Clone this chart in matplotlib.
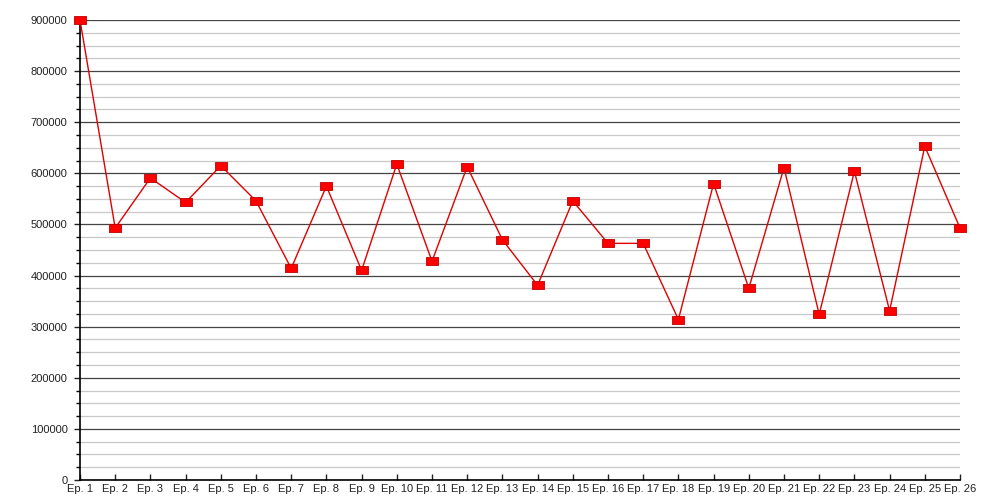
import matplotlib
matplotlib.use('Agg')
import matplotlib.pyplot as plt
from matplotlib.ticker import MultipleLocator

episodes = ['Ep. %d' % i for i in range(1, 27)]
values = [900000, 493000, 591000, 543000, 615000, 546000, 414000, 575000,
          410000, 618000, 428000, 613000, 470000, 381000, 546000, 463000,
          463000, 314000, 580000, 375000, 611000, 324000, 604000, 331000,
          653000, 493000]

plt.rcParams['font.family'] = ['Liberation Sans', 'DejaVu Sans']

fig = plt.figure(figsize=(10, 5), dpi=100)
ax = fig.add_axes([0.08, 0.04, 0.88, 0.92])

x = list(range(len(episodes)))
rect = [(-1, -0.65), (1, -0.65), (1, 0.65), (-1, 0.65), (-1, -0.65)]
ax.plot(x, values, color='#e00000', linewidth=1, marker=rect, markersize=8,
        markerfacecolor='#ff0000', markeredgecolor='#c00000', markeredgewidth=0.6,
        zorder=3, clip_on=False)

ax.set_xlim(0, len(episodes) - 1)
ax.set_ylim(0, 900000)
ax.set_xticks(x)
ax.set_xticklabels(episodes)
ax.yaxis.set_major_locator(MultipleLocator(100000))
ax.yaxis.set_minor_locator(MultipleLocator(25000))
ax.yaxis.set_major_formatter(matplotlib.ticker.FormatStrFormatter('%d'))

# grids
ax.grid(True, which='major', axis='y', color='#444444', linewidth=0.9)
ax.grid(True, which='minor', axis='y', color='#c8c8c8', linewidth=0.9)
ax.set_axisbelow(True)

# spines
ax.spines['top'].set_visible(False)
ax.spines['right'].set_visible(False)
ax.spines['left'].set_linewidth(1.2)
ax.spines['bottom'].set_linewidth(1.2)

# ticks
ax.tick_params(axis='x', direction='in', length=4, width=1, labelsize=8, pad=3, colors='#222222')
ax.tick_params(axis='y', which='major', direction='out', length=4, width=1, labelsize=8, pad=5, colors='#222222')
ax.tick_params(axis='y', which='minor', direction='out', length=3, width=1)

fig.savefig('out.png', dpi=100)
